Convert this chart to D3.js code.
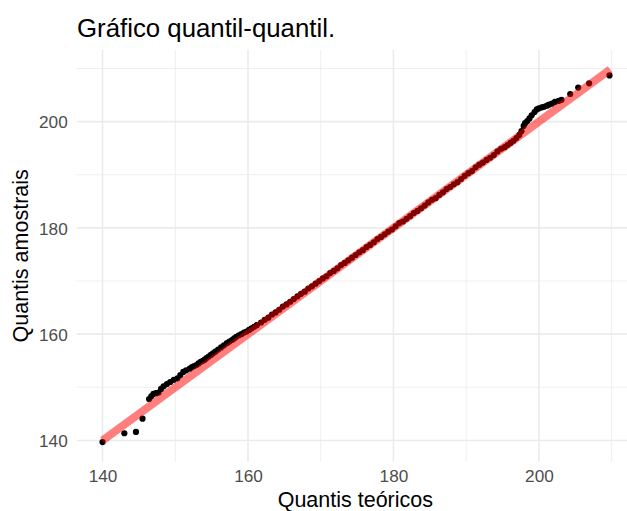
<!DOCTYPE html>
<html>
<head>
<meta charset="utf-8">
<script src="https://cdn.jsdelivr.net/npm/d3@7"></script>
<style>
  body { margin: 0; background: #fff; }
  text { font-family: "Liberation Sans", Arial, sans-serif; }
</style>
</head>
<body>
<svg width="627" height="511"></svg>
<script>
// quantis teoricos (x) e amostrais (y)
var teoricos = [140.0, 143.0, 144.6, 145.5, 146.4, 146.7, 147.0, 147.35, 147.7, 148.05,
  148.4, 148.85, 149.3, 149.8, 150.3, 150.7, 151.1, 151.5, 152.0, 152.3,
  152.6, 152.9, 153.2, 153.5, 153.8, 154.05, 154.3, 154.6, 154.9, 155.2,
  155.5, 155.9, 156.3, 156.7, 157.1, 157.45, 157.8, 158.1, 158.4, 158.75,
  159.1, 159.45, 159.8, 160.15, 160.5, 160.85, 161.2,
  161.8, 162.3, 162.8, 163.3, 163.8, 164.3, 164.8, 165.3, 165.8, 166.3,
  166.8, 167.3, 167.8, 168.3, 168.8, 169.3, 169.8, 170.3, 170.8, 171.3,
  171.8, 172.3, 172.8, 173.3, 173.8, 174.3, 174.8, 175.3, 175.8, 176.3,
  176.8, 177.3, 177.8, 178.3, 178.8, 179.3, 179.8, 180.3, 180.8, 181.3,
  181.8, 182.3, 182.8, 183.3, 183.8, 184.3, 184.8, 185.3, 185.8, 186.3,
  186.8, 187.3, 187.8, 188.3, 188.8, 189.3, 189.8, 190.3, 190.8, 191.3,
  191.8, 192.3, 192.8, 193.3, 193.8, 194.3, 194.8, 195.3, 195.7, 196.1,
  196.5, 196.9, 197.3, 197.6, 197.9, 198.1, 198.4, 198.7, 199.0, 199.4,
  199.7, 200.0, 200.4, 200.7, 201.1, 201.4, 201.8, 202.2, 202.7, 203.1,
  204.3, 205.4, 206.9, 209.7];
var amostrais = [139.7, 141.35, 141.6, 144.1, 147.8, 148.3, 148.75, 148.9, 149.0, 149.7,
  150.2, 150.6, 151.0, 151.4, 151.7, 152.3, 152.9, 153.2, 153.5, 153.8,
  154.0, 154.2, 154.5, 154.8, 155.0, 155.2, 155.5, 155.8, 156.1, 156.4,
  156.7, 157.1, 157.5, 157.9, 158.3, 158.6, 158.9, 159.2, 159.5, 159.8,
  160.0, 160.3, 160.5, 160.8, 161.1, 161.4, 161.7,
  162.2, 162.7, 163.1, 163.7, 164.1, 164.6, 165.2, 165.6, 166.1, 166.6,
  167.1, 167.6, 168.0, 168.6, 169.0, 169.5, 170.0, 170.5, 170.9, 171.5,
  171.9, 172.4, 173.0, 173.4, 173.9, 174.4, 174.9, 175.4, 175.8, 176.4,
  176.8, 177.3, 177.9, 178.3, 178.8, 179.3, 179.7, 180.3, 180.9, 181.2,
  181.7, 182.2, 182.8, 183.2, 183.7, 184.2, 184.8, 185.3, 185.6, 186.2,
  186.7, 187.3, 187.7, 188.2, 188.6, 189.2, 189.8, 190.3, 190.7, 191.4,
  191.9, 192.3, 192.8, 193.2, 193.7, 194.4, 194.9, 195.2, 195.6, 196.0,
  196.4, 196.9, 197.5, 198.2, 199.2, 199.7, 200.1, 200.6, 201.2, 201.8,
  202.3, 202.5, 202.7, 202.8, 203.0, 203.2, 203.4, 203.7, 203.9, 204.1,
  205.2, 206.4, 207.2, 208.7];
// linha de referencia (qq line)
var linhaX = [140.0, 209.8];
var linhaY = [140.0, 209.8];

var ticksMaiores = [140, 160, 180, 200];
var ticksMenores = [150, 170, 190, 210];

var svg = d3.select("svg");
var panel = { left: 76.7, right: 634, top: 50, bottom: 461.7 };

var x = d3.scaleLinear().domain([136.45, 213.07]).range([panel.left, panel.right]);
var y = d3.scaleLinear().domain([136.0, 213.48]).range([panel.bottom, panel.top]);

var grid = svg.append("g");
// minor grid
grid.selectAll(".vmin").data(ticksMenores).enter().append("line")
  .attr("x1", d => x(d)).attr("x2", d => x(d))
  .attr("y1", panel.top).attr("y2", panel.bottom)
  .attr("stroke", "#ebebeb").attr("stroke-width", 0.8);
grid.selectAll(".hmin").data(ticksMenores).enter().append("line")
  .attr("x1", panel.left).attr("x2", panel.right)
  .attr("y1", d => y(d)).attr("y2", d => y(d))
  .attr("stroke", "#ebebeb").attr("stroke-width", 0.8);
// major grid
grid.selectAll(".vmaj").data(ticksMaiores).enter().append("line")
  .attr("x1", d => x(d)).attr("x2", d => x(d))
  .attr("y1", panel.top).attr("y2", panel.bottom)
  .attr("stroke", "#ebebeb").attr("stroke-width", 1.6);
grid.selectAll(".hmaj").data(ticksMaiores).enter().append("line")
  .attr("x1", panel.left).attr("x2", panel.right)
  .attr("y1", d => y(d)).attr("y2", d => y(d))
  .attr("stroke", "#ebebeb").attr("stroke-width", 1.6);

// axes (labels only)
var xAxis = svg.append("g")
  .attr("transform", "translate(0," + panel.bottom + ")")
  .call(d3.axisBottom(x).tickValues(ticksMaiores).tickSize(0).tickPadding(8).tickFormat(d3.format("d")));
var yAxis = svg.append("g")
  .attr("transform", "translate(" + panel.left + ",0)")
  .call(d3.axisLeft(y).tickValues(ticksMaiores).tickSize(0).tickPadding(9).tickFormat(d3.format("d")));
[xAxis, yAxis].forEach(function(a) {
  a.select(".domain").remove();
  a.selectAll("text").attr("fill", "#4d4d4d").style("font-size", "17.2px")
    .style("font-family", "'Liberation Sans', Arial, sans-serif");
});
yAxis.selectAll("text").attr("dy", "0.36em");

// points
var pts = d3.range(teoricos.length).map(i => [teoricos[i], amostrais[i]]);
svg.append("g").selectAll("circle").data(pts).enter().append("circle")
  .attr("cx", d => x(d[0])).attr("cy", d => y(d[1]))
  .attr("r", 3.1).attr("fill", "#000");

// qq line
svg.append("line")
  .attr("x1", x(linhaX[0])).attr("y1", y(linhaY[0]))
  .attr("x2", x(linhaX[1])).attr("y2", y(linhaY[1]))
  .attr("stroke", "#ff0000").attr("stroke-opacity", 0.5)
  .attr("stroke-width", 8);

// titles
svg.append("text").attr("x", 77).attr("y", 37)
  .style("font-size", "25.8px").attr("fill", "#000")
  .text("Gráfico quantil-quantil.");
svg.append("text").attr("x", (panel.left + panel.right) / 2).attr("y", 506.5)
  .attr("text-anchor", "middle").style("font-size", "21.5px").attr("fill", "#000")
  .text("Quantis teóricos");
svg.append("text")
  .attr("transform", "translate(28," + (panel.top + panel.bottom) / 2 + ") rotate(-90)")
  .attr("text-anchor", "middle").style("font-size", "21.5px").attr("fill", "#000")
  .text("Quantis amostrais");
</script>
</body>
</html>
